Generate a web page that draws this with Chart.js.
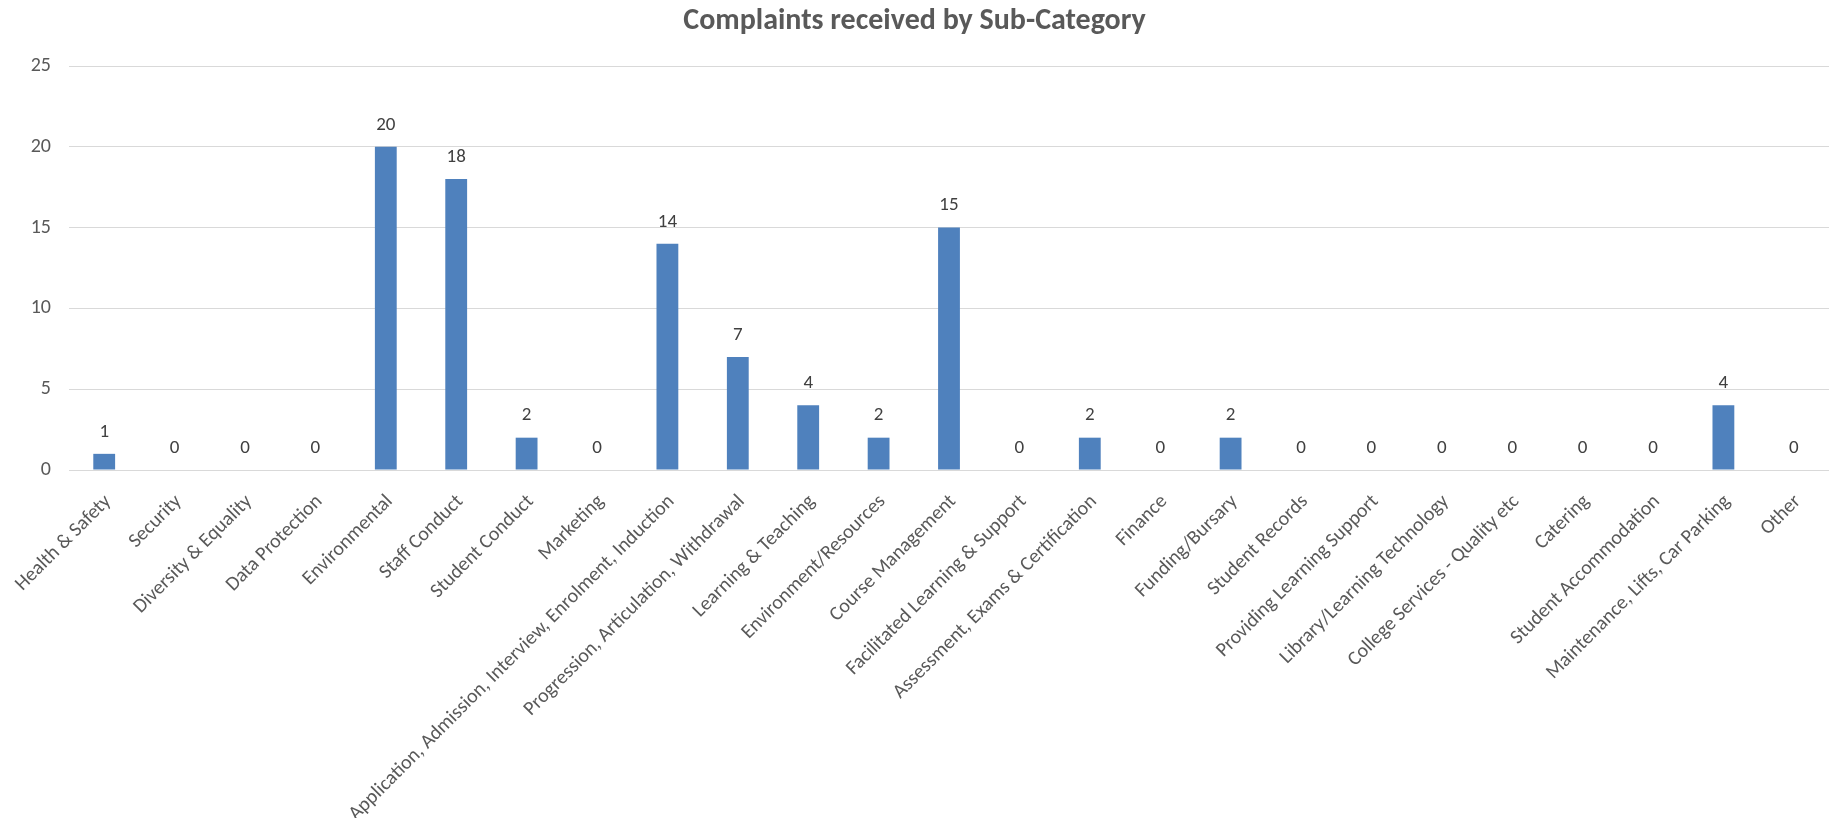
<!DOCTYPE html>
<html>
<head>
<meta charset="utf-8">
<script src="https://cdn.jsdelivr.net/npm/chart.js@4/dist/chart.umd.min.js"></script>
<style>
  html, body { margin: 0; padding: 0; background: #fff; }
  #wrap { width: 1829px; height: 818px; }
</style>
</head>
<body>
<div id="wrap"><canvas id="myChart" width="1829" height="818"></canvas></div>
<script>
// categories along the x axis
const categories = [
  "Health & Safety", "Security", "Diversity & Equality", "Data Protection",
  "Environmental", "Staff Conduct", "Student Conduct", "Marketing",
  "Application, Admission, Interview, Enrolment, Induction",
  "Progression, Articulation, Withdrawal", "Learning & Teaching",
  "Environment/Resources", "Course Management", "Facilitated Learning & Support",
  "Assessment, Exams & Certification", "Finance", "Funding/Bursary",
  "Student Records", "Providing Learning Support", "Library/Learning Technology",
  "College Services - Quality etc", "Catering", "Student Accommodation",
  "Maintenance, Lifts, Car Parking", "Other"
];
// number of complaints per sub-category
const complaints = [1, 0, 0, 0, 20, 18, 2, 0, 14, 7, 4, 2, 15, 0, 2, 0, 2, 0, 0, 0, 0, 0, 0, 4, 0];
// y axis ticks
const yTicks = [0, 5, 10, 15, 20, 25];

const fontFamily = "Calibri, Carlito, Lato, sans-serif";

// draws the value above each bar
const valueLabels = {
  id: 'valueLabels',
  afterDatasetsDraw(chart) {
    const ctx = chart.ctx;
    const meta = chart.getDatasetMeta(0);
    ctx.save();
    ctx.font = "19px " + fontFamily;
    ctx.fillStyle = "#404040";
    ctx.textAlign = "center";
    ctx.textBaseline = "middle";
    meta.data.forEach(function (bar, i) {
      ctx.fillText(complaints[i], bar.x, bar.y - 22);
    });
    ctx.restore();
  }
};

const ctx = document.getElementById('myChart').getContext('2d');
const myChart = new Chart(ctx, {
  type: 'bar',
  data: {
    labels: categories,
    datasets: [{
      label: "Complaints",
      data: complaints,
      backgroundColor: "#4F81BD",
      barPercentage: 0.31,
      categoryPercentage: 1
    }]
  },
  options: {
    responsive: false,
    animation: false,
    layout: { padding: 0 },
    plugins: {
      legend: { display: false },
      tooltip: { enabled: false },
      title: {
        display: true,
        text: "Complaints received by Sub-Category",
        color: "#595959",
        font: { family: fontFamily, size: 30, weight: 'bold', lineHeight: 1.2 },
        padding: { top: 3, bottom: 27 }
      }
    },
    scales: {
      x: {
        grid: { display: false },
        border: { color: "#D9D9D9", width: 1 },
        ticks: {
          autoSkip: false,
          maxRotation: 45,
          minRotation: 45,
          padding: 12,
          labelOffset: 4,
          color: "#595959",
          font: { family: fontFamily, size: 20 }
        },
        afterFit(scale) { scale.height = 348; }
      },
      y: {
        min: 0,
        max: 25,
        afterBuildTicks(scale) { scale.ticks = yTicks.map(v => ({ value: v })); },
        grid: { color: "#D9D9D9", drawTicks: false },
        border: { display: false },
        ticks: {
          padding: 18,
          color: "#595959",
          font: { family: fontFamily, size: 20 }
        },
        afterFit(scale) { scale.width = 69; }
      }
    }
  },
  plugins: [valueLabels]
});
</script>
</body>
</html>
